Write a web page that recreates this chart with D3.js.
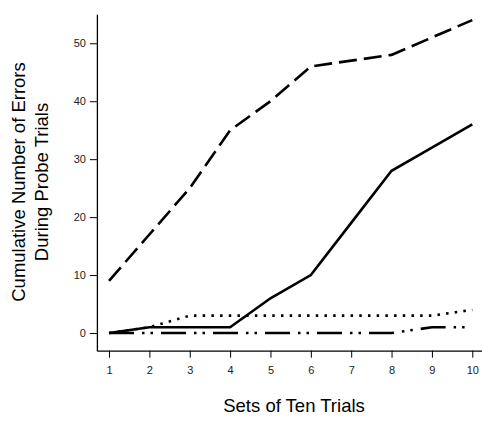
<!DOCTYPE html>
<html>
<head>
<meta charset="utf-8">
<script src="https://cdn.jsdelivr.net/npm/d3@7"></script>
<style>
  body { margin: 0; background: #fff; }
  svg { display: block; font-family: "Liberation Sans", Arial, sans-serif; }
</style>
</head>
<body>
<svg id="chart" width="482" height="423"></svg>
<script>
const sets = [1, 2, 3, 4, 5, 6, 7, 8, 9, 10]
const solidErrors   = [0, 1, 1, 1, 6, 10, 19, 28, 32, 36]
const dashedErrors  = [9, 17, 25, 35, 40, 46, 47, 48, 51, 54]
const dottedErrors  = [0, 1, 3, 3, 3, 3, 3, 3, 3, 4]
const dotDashErrors = [0, 0, 0, 0, 0, 0, 0, 0, 1, 1]
const yTicks = [0, 10, 20, 30, 40, 50]

const svg = d3.select('#chart')

// plot region (L shaped box like R bty="l")
const x = d3.scaleLinear().domain([0.7, 10.3]).range([96.9, 484.4])
const y = d3.scaleLinear().domain([-3.05, 55]).range([350.7, 14.3])

const xAxis = svg.append('g')
    .attr('transform', `translate(0, ${y(-3.05)})`)
    .call(d3.axisBottom(x).tickValues(sets).tickSizeInner(7).tickSizeOuter(0).tickPadding(9))

const yAxis = svg.append('g')
    .attr('transform', `translate(${x(0.7)}, 0)`)
    .call(d3.axisLeft(y).tickValues(yTicks).tickSizeInner(7).tickSizeOuter(0).tickPadding(4))

svg.selectAll('.domain').attr('stroke', '#000').attr('stroke-width', 1.3)
svg.selectAll('.tick line').attr('stroke', '#000').attr('stroke-width', 1)
svg.selectAll('.tick text').attr('fill', '#222').style('font-size', '11px')
    .style('font-family', '"Liberation Sans", Arial, sans-serif')

const line = d3.line()
    .x((d, i) => x(sets[i]))
    .y(d => y(d))

const series = [
    {values: dotDashErrors, dash: '25,8,2.5,6,2.5,8'},
    {values: dottedErrors, dash: '2.5,6.2'},
    {values: dashedErrors, dash: '18,7'},
    {values: solidErrors, dash: null}
]

svg.selectAll('path.series')
    .data(series)
    .join('path')
    .attr('class', 'series')
    .attr('d', d => line(d.values))
    .attr('fill', 'none')
    .attr('stroke', '#000')
    .attr('stroke-width', 2.6)
    .attr('stroke-dasharray', d => d.dash)

// axis titles
svg.append('text')
    .attr('x', 294)
    .attr('y', 412)
    .attr('text-anchor', 'middle')
    .style('font-size', '18.5px')
    .text('Sets of Ten Trials')

const yTitle = svg.append('text')
    .attr('transform', 'translate(0, 182) rotate(-90)')
    .attr('text-anchor', 'middle')
    .style('font-size', '18.5px')
yTitle.append('tspan').attr('x', 0).attr('y', 25).text('Cumulative Number of Errors')
yTitle.append('tspan').attr('x', 0).attr('y', 48).text('During Probe Trials')
</script>
</body>
</html>
